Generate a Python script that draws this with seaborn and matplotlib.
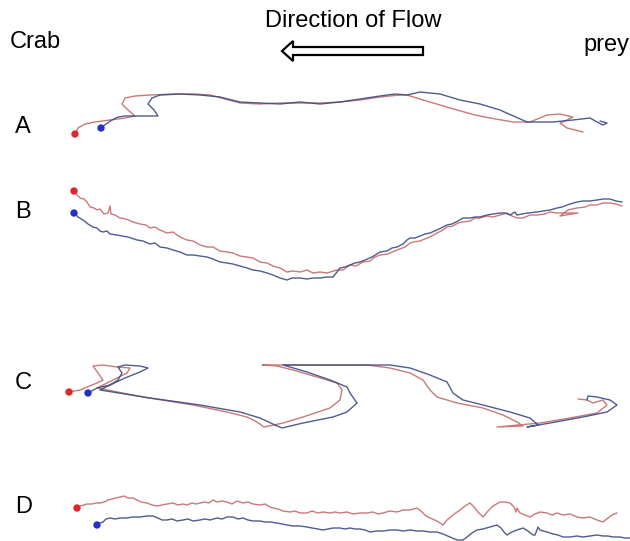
import matplotlib
matplotlib.use("Agg")
import matplotlib.pyplot as plt
from matplotlib.patches import FancyArrow
import seaborn as sns

sns.set_theme(style="white")
plt.rcParams['font.family'] = ['Liberation Sans', 'DejaVu Sans']

# ---- trajectory data (image pixel units) ----
A_red_x = [75, 78, 85, 95, 110, 125, 135, 128, 122, 125, 135, 150, 175, 195, 210, 225, 240, 260, 280, 300, 320, 340, 360, 380, 400, 407, 423, 440, 457, 475, 490, 513, 530, 547, 560, 573, 565, 560, 567, 575, 583]
A_red_y = [134, 128, 124, 122, 120, 118, 116, 110, 104, 98, 96, 95, 94, 94, 95, 99, 103, 104, 103, 103, 103, 102, 100, 97, 95, 95, 100, 105, 110, 115, 118, 122, 122, 115, 114, 117, 121, 123, 128, 130, 132]
A_blue_x = [101, 106, 112, 118, 125, 135, 150, 158, 154, 148, 152, 160, 180, 200, 220, 240, 260, 280, 300, 320, 340, 360, 380, 395, 407, 420, 440, 460, 480, 500, 527, 553, 573, 590, 597, 603, 607, 600]
A_blue_y = [128, 124, 120, 117, 116, 116, 116, 116, 110, 104, 98, 95, 94, 95, 97, 102, 103, 104, 102, 104, 102, 99, 96, 94, 95, 92, 94, 100, 104, 110, 122, 122, 120, 118, 122, 125, 123, 121]

B_red_x = [74, 77, 80, 84, 87, 90, 94, 97, 100, 104, 108, 110, 111, 115, 120, 126, 133, 140, 146, 150, 155, 160, 167, 173, 180, 187, 193, 200, 207, 213, 220, 227, 233, 240, 247, 253, 260, 267, 273, 280, 287, 293, 300, 307, 313, 320, 327, 337, 343, 350, 356, 363, 370, 375, 380, 388, 397, 405, 410, 413, 420, 427, 430, 437, 443, 447, 453, 458, 463, 470, 475, 480, 487, 493, 500, 507, 512, 517, 523, 530, 537, 545, 550, 557, 578, 560, 568, 577, 585, 590, 597, 603, 610, 616, 622]
B_red_y = [191, 195, 198, 199, 202, 207, 208, 210, 209, 214, 213, 206, 214, 215, 218, 219, 222, 224, 225, 228, 227, 230, 233, 232, 237, 240, 241, 245, 247, 247, 251, 252, 253, 256, 257, 258, 262, 263, 266, 268, 272, 271, 272, 270, 273, 272, 273, 270, 270, 265, 266, 262, 261, 257, 255, 254, 250, 247, 243, 242, 241, 238, 237, 233, 230, 227, 226, 223, 222, 221, 218, 218, 216, 217, 215, 213, 216, 218, 218, 215, 215, 214, 212, 213, 213, 216, 210, 208, 207, 205, 205, 203, 203, 204, 206]
B_blue_x = [74, 78, 83, 88, 93, 97, 100, 103, 107, 110, 117, 122, 128, 137, 143, 150, 155, 160, 167, 173, 180, 187, 193, 200, 207, 213, 220, 227, 233, 240, 247, 253, 260, 267, 273, 280, 287, 292, 300, 307, 313, 320, 327, 333, 337, 340, 345, 350, 355, 360, 365, 372, 380, 387, 392, 397, 403, 407, 410, 415, 420, 425, 430, 437, 443, 447, 452, 458, 463, 470, 475, 480, 487, 493, 500, 505, 510, 515, 517, 522, 528, 537, 543, 550, 557, 562, 570, 577, 583, 590, 597, 603, 610, 616, 622]
B_blue_y = [213, 217, 220, 224, 227, 228, 231, 232, 231, 234, 235, 236, 237, 240, 241, 244, 243, 247, 248, 250, 252, 255, 255, 256, 257, 259, 262, 263, 264, 266, 268, 270, 271, 273, 275, 278, 280, 278, 278, 279, 278, 278, 277, 277, 272, 268, 267, 265, 263, 262, 260, 257, 252, 251, 248, 247, 244, 240, 238, 238, 236, 234, 233, 230, 227, 225, 224, 221, 218, 218, 217, 217, 215, 214, 213, 213, 215, 212, 215, 214, 213, 212, 211, 210, 208, 207, 204, 202, 201, 201, 200, 199, 199, 201, 202]

C_red_x = [69, 80, 87, 97, 103, 98, 93, 103, 117, 130, 127, 113, 97, 143, 193, 227, 247, 257, 264, 283, 303, 330, 340, 342, 337, 317, 293, 277, 262, 317, 367, 390, 410, 423, 430, 437, 457, 483, 503, 517, 523, 497, 540, 570, 597, 607, 603, 593, 587, 578]
C_red_y = [392, 390, 387, 383, 380, 373, 366, 365, 367, 368, 373, 380, 388, 397, 405, 412, 417, 422, 427, 423, 417, 408, 400, 390, 383, 377, 370, 366, 365, 365, 365, 368, 373, 380, 390, 397, 403, 408, 415, 422, 426, 427, 423, 418, 413, 405, 400, 403, 400, 399]
C_blue_x = [88, 97, 110, 118, 122, 118, 125, 140, 148, 140, 125, 110, 100, 150, 200, 240, 260, 275, 282, 303, 333, 347, 357, 350, 347, 330, 307, 283, 350, 390, 410, 430, 447, 453, 463, 483, 510, 530, 538, 527, 550, 583, 607, 617, 610, 597, 588, 587]
C_blue_y = [393, 388, 385, 380, 373, 367, 365, 366, 368, 372, 378, 385, 390, 398, 405, 412, 418, 425, 428, 423, 417, 412, 403, 393, 387, 380, 372, 365, 365, 365, 368, 375, 382, 393, 400, 405, 412, 418, 425, 427, 423, 417, 412, 405, 400, 397, 396, 400]

D_red_x = [77, 80, 84, 87, 92, 96, 100, 104, 108, 112, 116, 120, 124, 128, 133, 137, 141, 147, 152, 157, 162, 167, 173, 178, 183, 187, 192, 196, 200, 205, 209, 213, 217, 222, 227, 232, 237, 243, 248, 253, 260, 265, 270, 273, 278, 283, 290, 295, 300, 307, 312, 318, 323, 330, 335, 340, 347, 353, 360, 367, 373, 378, 383, 390, 397, 403, 410, 417, 422, 426, 430, 437, 443, 447, 453, 460, 465, 470, 474, 478, 483, 488, 493, 500, 505, 510, 514, 516, 517, 520, 525, 530, 535, 540, 547, 552, 557, 563, 570, 577, 583, 590, 597, 603, 608, 612, 617]
D_red_y = [508, 506, 505, 504, 504, 503, 503, 502, 500, 499, 498, 497, 496, 498, 498, 500, 502, 503, 505, 506, 505, 504, 503, 505, 504, 505, 503, 504, 503, 502, 503, 500, 502, 501, 502, 504, 501, 503, 502, 504, 505, 504, 507, 508, 509, 511, 512, 511, 513, 513, 511, 513, 512, 513, 512, 513, 512, 514, 513, 513, 512, 514, 513, 511, 512, 510, 510, 508, 512, 516, 518, 521, 525, 520, 515, 510, 506, 503, 507, 512, 517, 511, 506, 502, 502, 503, 507, 512, 508, 513, 515, 517, 514, 512, 513, 515, 513, 515, 514, 517, 518, 517, 520, 522, 518, 515, 513]
D_blue_x = [97, 100, 103, 106, 110, 115, 120, 126, 133, 140, 147, 153, 158, 162, 167, 172, 177, 183, 188, 193, 200, 205, 210, 217, 222, 227, 233, 238, 243, 248, 253, 260, 265, 270, 277, 282, 287, 293, 300, 307, 312, 318, 323, 328, 333, 340, 345, 350, 355, 360, 365, 370, 377, 383, 390, 397, 403, 410, 417, 423, 430, 437, 443, 450, 457, 463, 467, 472, 477, 483, 490, 497, 501, 504, 507, 512, 517, 523, 528, 533, 535, 537, 538, 540, 543, 547, 553, 558, 563, 570, 577, 583, 590, 597, 603, 608, 613, 620, 625, 630]
D_blue_y = [525, 523, 522, 519, 518, 519, 518, 518, 517, 517, 516, 516, 518, 520, 520, 519, 521, 520, 519, 521, 520, 519, 520, 518, 519, 517, 517, 519, 518, 520, 521, 521, 522, 522, 523, 524, 525, 526, 526, 527, 528, 529, 530, 529, 528, 528, 529, 528, 529, 529, 530, 532, 531, 531, 530, 530, 531, 530, 531, 531, 532, 532, 534, 537, 540, 540, 537, 533, 530, 529, 527, 525, 528, 532, 535, 532, 530, 528, 531, 535, 535, 530, 527, 530, 531, 532, 534, 535, 537, 537, 536, 537, 536, 535, 536, 536, 537, 537, 538, 538]

panel_labels = ["A", "B", "C", "D"]
panel_label_y = [127, 212, 383, 507]

RED_LINE = "#c46a6a"
BLUE_LINE = "#3c4a82"
RED_DOT = "#e0262b"
BLUE_DOT = "#2530c8"

fig = plt.figure(figsize=(6.30, 5.41), dpi=100)
ax = fig.add_axes([0, 0, 1, 1])

paths = [
    (A_red_x, A_red_y, A_blue_x, A_blue_y),
    (B_red_x, B_red_y, B_blue_x, B_blue_y),
    (C_red_x, C_red_y, C_blue_x, C_blue_y),
    (D_red_x, D_red_y, D_blue_x, D_blue_y),
]
for rx, ry, bx, by in paths:
    sns.lineplot(x=rx, y=ry, sort=False, estimator=None, color=RED_LINE,
                 lw=1.0, alpha=0.9, ax=ax)
    sns.lineplot(x=bx, y=by, sort=False, estimator=None, color=BLUE_LINE,
                 lw=1.0, alpha=0.9, ax=ax)
    sns.scatterplot(x=[rx[0]], y=[ry[0]], color=RED_DOT, s=28,
                    edgecolor="none", ax=ax, zorder=5)
    sns.scatterplot(x=[bx[0]], y=[by[0]], color=BLUE_DOT, s=28,
                    edgecolor="none", ax=ax, zorder=5)

ax.set_xlim(0, 630)
ax.set_ylim(541, 0)
ax.axis("off")

for lab, yy in zip(panel_labels, panel_label_y):
    ax.text(15, yy, lab, fontsize=17, ha="left", va="center", color="black")

ax.text(10, 42, "Crab", fontsize=17, ha="left", va="center", color="black")
ax.text(629, 45, "prey", fontsize=17, ha="right", va="center", color="black")
ax.text(265, 21, "Direction of Flow", fontsize=17, ha="left", va="center",
        color="black")

ax.add_patch(FancyArrow(423, 51, -141, 0, width=8, head_width=20,
                        head_length=11, length_includes_head=True,
                        facecolor="white", edgecolor="black", lw=1.6))

fig.savefig("out.png", dpi=100)
